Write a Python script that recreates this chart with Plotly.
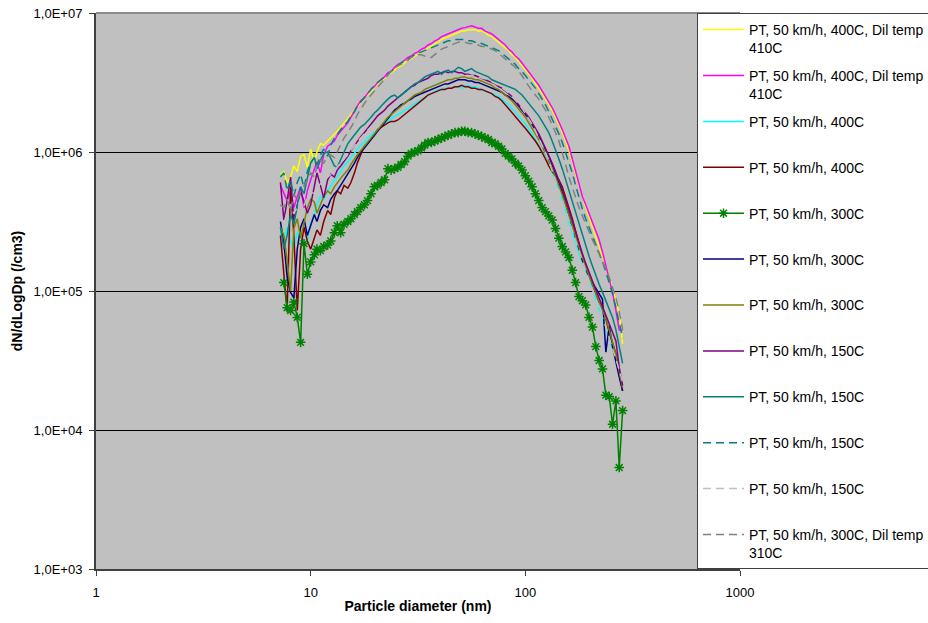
import plotly.graph_objects as go

# Particle diameter bins (nm), 64 channels per decade
diameter_nm = [
    7.23, 7.50, 7.77, 8.06, 8.35, 8.66, 8.98, 9.31, 9.65, 10.0,
    10.4, 10.7, 11.1, 11.5, 12.0, 12.4, 12.9, 13.3, 13.8, 14.3,
    14.9, 15.4, 16.0, 16.5, 17.1, 17.8, 18.4, 19.1, 19.8, 20.5,
    21.3, 22.1, 22.9, 23.7, 24.6, 25.5, 26.4, 27.4, 28.4, 29.4,
    30.5, 31.6, 32.8, 34.0, 35.2, 36.5, 37.9, 39.2, 40.7, 42.2,
    43.7, 45.3, 47.0, 48.7, 50.5, 52.3, 54.2, 56.2, 58.3, 60.4,
    62.6, 64.9, 67.3, 69.8, 72.3, 75.0, 77.7, 80.6, 83.5, 86.6,
    89.8, 93.1, 96.5, 100.0, 103.7, 107.5, 111.4, 115.5, 119.7, 124.1,
    128.6, 133.3, 138.2, 143.3, 148.6, 154.0, 159.6, 165.5, 171.5, 177.8,
    184.4, 191.1, 198.1, 205.4, 212.9, 220.7, 228.8, 237.2, 245.9, 254.8,
    264.2, 273.8, 283.9,
]

# dN/dLogDp (/cm3) for each run
pt400_dil410_a = [
    6.92e5, 7.24e5, 6.03e5, 6.61e5, 7.94e5, 7.24e5, 9.33e5, 9.55e5, 7.76e5, 1.05e6,
    8.51e5, 1.00e6, 1.15e6, 1.12e6, 1.20e6, 1.26e6, 1.35e6, 1.41e6, 1.51e6, 1.62e6,
    1.74e6, 1.86e6, 2.00e6, 2.14e6, 2.29e6, 2.45e6, 2.57e6, 2.75e6, 2.88e6, 3.09e6,
    3.24e6, 3.39e6, 3.55e6, 3.72e6, 3.89e6, 4.07e6, 4.17e6, 4.37e6, 4.57e6, 4.68e6,
    4.90e6, 5.01e6, 5.25e6, 5.37e6, 5.62e6, 5.75e6, 6.03e6, 6.17e6, 6.46e6, 6.61e6,
    6.76e6, 6.92e6, 7.08e6, 7.24e6, 7.41e6, 7.41e6, 7.59e6, 7.59e6, 7.59e6, 7.41e6,
    7.41e6, 7.24e6, 6.92e6, 6.76e6, 6.46e6, 6.17e6, 5.89e6, 5.62e6, 5.37e6, 5.01e6,
    4.79e6, 4.47e6, 4.17e6, 3.89e6, 3.63e6, 3.39e6, 3.09e6, 2.88e6, 2.63e6, 2.40e6,
    2.19e6, 2.00e6, 1.78e6, 1.58e6, 1.38e6, 1.20e6, 1.02e6, 8.51e5, 6.92e5, 5.75e5,
    4.68e5, 3.98e5, 3.39e5, 2.88e5, 2.51e5, 2.14e5, 1.82e5, 1.51e5, 1.26e5, 1.02e5,
    8.32e4, 6.92e4, 4.17e4,
]
pt400_dil410_b = [
    5.75e5, 5.00e5, 4.47e5, 5.25e5, 3.98e5, 4.79e5, 5.62e5, 3.98e5, 5.25e5, 6.31e5,
    7.59e5, 8.51e5, 7.08e5, 9.55e5, 1.10e6, 1.15e6, 1.20e6, 1.32e6, 1.41e6, 1.51e6,
    1.62e6, 1.78e6, 1.95e6, 2.14e6, 2.34e6, 2.45e6, 2.63e6, 2.82e6, 2.95e6, 3.16e6,
    3.31e6, 3.47e6, 3.72e6, 3.80e6, 4.07e6, 4.27e6, 4.37e6, 4.57e6, 4.79e6, 4.90e6,
    5.13e6, 5.25e6, 5.50e6, 5.62e6, 5.89e6, 6.03e6, 6.31e6, 6.46e6, 6.76e6, 6.92e6,
    7.08e6, 7.24e6, 7.41e6, 7.59e6, 7.76e6, 7.85e6, 7.94e6, 8.10e6, 7.94e6, 7.76e6,
    7.76e6, 7.41e6, 7.24e6, 7.08e6, 6.76e6, 6.46e6, 6.17e6, 5.89e6, 5.50e6, 5.25e6,
    4.90e6, 4.68e6, 4.37e6, 4.07e6, 3.80e6, 3.55e6, 3.24e6, 3.02e6, 2.75e6, 2.51e6,
    2.29e6, 2.09e6, 1.86e6, 1.66e6, 1.45e6, 1.26e6, 1.10e6, 8.91e5, 7.24e5, 5.89e5,
    4.79e5, 4.17e5, 3.63e5, 3.09e5, 2.69e5, 2.34e5, 1.91e5, 1.51e5, 1.20e5, 9.77e4,
    7.24e4, 5.25e4, 5.25e4,
]
pt400_a = [
    2.69e5, 2.40e5, 2.88e5, 2.29e5, 2.00e5, 2.63e5, 2.51e5, 2.19e5, 2.34e5, 3.02e5,
    3.55e5, 4.17e5, 4.79e5, 4.57e5, 5.25e5, 5.75e5, 6.31e5, 6.61e5, 7.24e5, 7.94e5,
    8.51e5, 9.12e5, 9.77e5, 1.05e6, 1.12e6, 1.17e6, 1.26e6, 1.32e6, 1.38e6, 1.45e6,
    1.51e6, 1.58e6, 1.66e6, 1.74e6, 1.82e6, 1.86e6, 1.91e6, 2.00e6, 2.04e6, 2.14e6,
    2.24e6, 2.29e6, 2.40e6, 2.45e6, 2.57e6, 2.63e6, 2.75e6, 2.82e6, 2.82e6, 2.88e6,
    2.88e6, 2.88e6, 2.95e6, 2.95e6, 2.88e6, 2.95e6, 3.02e6, 2.95e6, 2.95e6, 2.88e6,
    2.82e6, 2.75e6, 2.69e6, 2.63e6, 2.57e6, 2.51e6, 2.40e6, 2.29e6, 2.19e6, 2.04e6,
    1.95e6, 1.82e6, 1.70e6, 1.58e6, 1.48e6, 1.35e6, 1.23e6, 1.12e6, 1.02e6, 9.12e5,
    8.13e5, 7.24e5, 6.31e5, 5.37e5, 4.57e5, 3.80e5, 3.16e5, 2.63e5, 2.19e5, 1.86e5,
    1.62e5, 1.41e5, 1.23e5, 1.05e5, 8.71e4, 7.41e4, 6.46e4, 5.50e4, 4.57e4, 3.80e4,
    3.16e4, 2.51e4, 2.00e4,
]
pt400_b = [
    2.51e5, 1.26e5, 7.24e4, 5.62e5, 2.51e5, 7.24e4, 2.00e5, 2.88e5, 2.29e5, 2.00e5,
    2.40e5, 2.75e5, 2.51e5, 3.16e5, 3.80e5, 3.55e5, 4.68e5, 5.25e5, 5.01e5, 5.75e5,
    5.50e5, 6.03e5, 7.08e5, 8.32e5, 9.55e5, 1.10e6, 1.15e6, 1.23e6, 1.32e6, 1.45e6,
    1.51e6, 1.58e6, 1.62e6, 1.66e6, 1.66e6, 1.70e6, 1.78e6, 1.86e6, 1.95e6, 2.04e6,
    2.14e6, 2.24e6, 2.34e6, 2.45e6, 2.57e6, 2.63e6, 2.69e6, 2.75e6, 2.82e6, 2.82e6,
    2.88e6, 2.88e6, 2.95e6, 2.95e6, 3.02e6, 2.95e6, 2.95e6, 2.88e6, 2.88e6, 2.82e6,
    2.82e6, 2.75e6, 2.69e6, 2.63e6, 2.51e6, 2.45e6, 2.34e6, 2.19e6, 2.09e6, 1.95e6,
    1.82e6, 1.70e6, 1.58e6, 1.48e6, 1.38e6, 1.29e6, 1.20e6, 1.10e6, 1.00e6, 8.91e5,
    7.94e5, 7.24e5, 6.76e5, 6.31e5, 5.62e5, 4.79e5, 3.98e5, 3.31e5, 2.75e5, 2.19e5,
    1.74e5, 1.48e5, 1.26e5, 1.12e5, 9.55e4, 8.32e4, 7.59e4, 6.31e4, 5.01e4, 4.17e4,
    3.55e4, 2.51e4, 1.91e4,
]
pt300_a = [
    None, 1.15e5, 7.59e4, 7.24e4, 8.32e4, 6.46e4, 4.27e4, 2.19e5, 1.32e5, 1.62e5,
    1.82e5, 2.00e5, 1.95e5, 2.09e5, 2.14e5, 2.29e5, 2.63e5, 2.95e5, 2.63e5, 3.02e5,
    3.16e5, 3.31e5, 3.55e5, 3.72e5, 3.98e5, 4.17e5, 4.47e5, 5.01e5, 5.62e5, 5.75e5,
    6.03e5, 6.31e5, 7.59e5, 7.41e5, 7.59e5, 7.76e5, 8.13e5, 8.51e5, 9.33e5, 9.77e5,
    1.00e6, 1.02e6, 1.07e6, 1.12e6, 1.17e6, 1.17e6, 1.20e6, 1.23e6, 1.26e6, 1.29e6,
    1.32e6, 1.35e6, 1.38e6, 1.38e6, 1.41e6, 1.41e6, 1.38e6, 1.38e6, 1.35e6, 1.32e6,
    1.29e6, 1.26e6, 1.23e6, 1.17e6, 1.15e6, 1.10e6, 1.05e6, 9.77e5, 9.33e5, 8.91e5,
    8.32e5, 7.94e5, 7.41e5, 6.76e5, 6.17e5, 5.62e5, 5.01e5, 4.47e5, 3.98e5, 3.72e5,
    3.47e5, 3.24e5, 2.82e5, 2.40e5, 2.09e5, 1.91e5, 1.74e5, 1.41e5, 1.15e5, 9.12e4,
    8.51e4, 7.94e4, 6.46e4, 5.50e4, 3.98e4, 3.16e4, 2.75e4, 1.78e4, 1.74e4, 1.10e4,
    1.62e4, 5.37e3, 1.38e4,
]
pt300_b = [
    3.16e5, 2.24e5, 1.26e5, 9.77e4, 8.91e4, 2.00e5, 2.88e5, 3.31e5, 2.51e5, 3.02e5,
    3.55e5, 3.16e5, 3.80e5, 4.17e5, 3.98e5, 4.57e5, 5.01e5, 5.25e5, 5.75e5, 6.31e5,
    6.92e5, 7.59e5, 8.32e5, 9.12e5, 1.00e6, 1.07e6, 1.15e6, 1.23e6, 1.32e6, 1.41e6,
    1.51e6, 1.62e6, 1.74e6, 1.86e6, 2.00e6, 2.09e6, 2.19e6, 2.24e6, 2.34e6, 2.40e6,
    2.51e6, 2.57e6, 2.63e6, 2.69e6, 2.75e6, 2.82e6, 2.88e6, 2.95e6, 3.02e6, 3.09e6,
    3.09e6, 3.16e6, 3.24e6, 3.31e6, 3.31e6, 3.31e6, 3.24e6, 3.24e6, 3.16e6, 3.16e6,
    3.09e6, 3.02e6, 2.95e6, 2.88e6, 2.82e6, 2.75e6, 2.69e6, 2.57e6, 2.51e6, 2.40e6,
    2.29e6, 2.14e6, 2.00e6, 1.86e6, 1.74e6, 1.58e6, 1.45e6, 1.32e6, 1.17e6, 1.05e6,
    9.33e5, 8.13e5, 7.08e5, 6.03e5, 5.13e5, 4.27e5, 3.55e5, 2.95e5, 2.40e5, 2.00e5,
    1.66e5, 1.45e5, 1.26e5, 1.15e5, 1.05e5, 9.55e4, 8.71e4, 3.63e4, 5.62e4, 3.98e4,
    3.02e4, 2.40e4, 1.91e4,
]
pt300_c = [
    2.88e5, 2.51e5, 1.66e5, 1.00e5, 2.82e5, 3.31e5, 2.40e5, 3.16e5, 3.98e5, 4.57e5,
    4.37e5, 3.63e5, 4.17e5, 4.79e5, 5.25e5, 5.01e5, 5.62e5, 6.03e5, 6.46e5, 6.92e5,
    7.41e5, 8.13e5, 8.91e5, 9.55e5, 1.02e6, 1.10e6, 1.17e6, 1.26e6, 1.35e6, 1.45e6,
    1.55e6, 1.66e6, 1.78e6, 1.86e6, 1.95e6, 2.04e6, 2.14e6, 2.24e6, 2.34e6, 2.45e6,
    2.57e6, 2.63e6, 2.69e6, 2.82e6, 2.88e6, 2.95e6, 3.02e6, 3.09e6, 3.16e6, 3.24e6,
    3.31e6, 3.31e6, 3.39e6, 3.39e6, 3.47e6, 3.47e6, 3.39e6, 3.39e6, 3.31e6, 3.31e6,
    3.24e6, 3.16e6, 3.09e6, 3.02e6, 2.88e6, 2.82e6, 2.69e6, 2.57e6, 2.45e6, 2.34e6,
    2.19e6, 2.04e6, 1.91e6, 1.78e6, 1.62e6, 1.48e6, 1.35e6, 1.23e6, 1.10e6, 9.77e5,
    8.71e5, 7.59e5, 6.61e5, 5.75e5, 4.90e5, 4.17e5, 3.55e5, 2.95e5, 2.45e5, 2.04e5,
    1.74e5, 1.48e5, 1.29e5, 1.12e5, 9.77e4, 8.51e4, 7.41e4, 6.31e4, 5.25e4, 4.37e4,
    3.47e4, 2.63e4, 2.00e4,
]
pt150_a = [
    6.03e5, 3.24e5, 4.47e5, 6.61e5, 3.24e5, 4.17e5, 5.25e5, 4.37e5, 3.63e5, 4.17e5,
    5.62e5, 7.08e5, 5.75e5, 4.68e5, 6.31e5, 6.92e5, 6.61e5, 7.41e5, 7.94e5, 8.51e5,
    9.33e5, 1.02e6, 1.12e6, 1.20e6, 1.29e6, 1.38e6, 1.48e6, 1.58e6, 1.70e6, 1.82e6,
    1.91e6, 2.00e6, 2.14e6, 2.24e6, 2.34e6, 2.45e6, 2.57e6, 2.69e6, 2.82e6, 2.95e6,
    3.02e6, 3.16e6, 3.24e6, 3.31e6, 3.39e6, 3.55e6, 3.63e6, 3.63e6, 3.72e6, 3.80e6,
    3.72e6, 3.80e6, 3.80e6, 3.72e6, 3.72e6, 3.63e6, 3.63e6, 3.55e6, 3.55e6, 3.47e6,
    3.39e6, 3.31e6, 3.24e6, 3.16e6, 3.09e6, 2.95e6, 2.88e6, 2.75e6, 2.63e6, 2.51e6,
    2.34e6, 2.19e6, 2.04e6, 1.91e6, 1.78e6, 1.62e6, 1.48e6, 1.35e6, 1.20e6, 1.07e6,
    9.55e5, 8.32e5, 7.24e5, 6.31e5, 5.37e5, 4.57e5, 3.80e5, 3.16e5, 2.63e5, 2.19e5,
    1.86e5, 1.58e5, 1.35e5, 1.17e5, 1.02e5, 8.91e4, 7.76e4, 6.76e4, 5.75e4, 5.01e4,
    4.37e4, 2.82e4, 2.09e4,
]
pt150_b = [
    2.88e5, 2.00e5, 2.51e5, 3.55e5, 3.02e5, 4.17e5, 5.62e5, 5.01e5, 6.61e5, 8.32e5,
    9.12e5, 7.59e5, 8.71e5, 9.77e5, 1.00e6, 8.91e5, 7.94e5, 7.76e5, 8.91e5, 1.00e6,
    1.15e6, 1.23e6, 1.32e6, 1.41e6, 1.51e6, 1.58e6, 1.66e6, 1.78e6, 1.91e6, 2.00e6,
    2.14e6, 2.29e6, 2.40e6, 2.51e6, 2.57e6, 2.45e6, 2.57e6, 2.69e6, 2.82e6, 2.95e6,
    3.09e6, 3.16e6, 3.31e6, 3.47e6, 3.55e6, 3.63e6, 3.72e6, 3.80e6, 3.63e6, 3.80e6,
    3.89e6, 3.72e6, 3.89e6, 4.07e6, 3.98e6, 3.80e6, 3.89e6, 3.98e6, 3.80e6, 3.72e6,
    3.63e6, 3.55e6, 3.47e6, 3.31e6, 3.24e6, 3.16e6, 3.09e6, 3.02e6, 2.95e6, 2.88e6,
    2.82e6, 2.69e6, 2.57e6, 2.40e6, 2.24e6, 2.09e6, 1.95e6, 1.82e6, 1.66e6, 1.51e6,
    1.38e6, 1.20e6, 1.05e6, 8.91e5, 7.59e5, 6.31e5, 5.25e5, 4.37e5, 3.63e5, 3.02e5,
    2.51e5, 2.09e5, 1.78e5, 1.51e5, 1.29e5, 1.12e5, 9.77e4, 8.51e4, 7.41e4, 6.46e4,
    5.25e4, 3.98e4, 3.02e4,
]
pt150_c = [
    6.61e5, 7.08e5, 5.25e5, 6.31e5, 4.79e5, 6.03e5, 6.92e5, 5.50e5, 7.24e5, 8.32e5,
    9.12e5, 7.94e5, 9.55e5, 1.05e6, 9.33e5, 1.12e6, 1.26e6, 1.35e6, 1.45e6, 1.55e6,
    1.66e6, 1.82e6, 1.95e6, 2.14e6, 2.29e6, 2.45e6, 2.63e6, 2.82e6, 3.02e6, 3.16e6,
    3.31e6, 3.47e6, 3.63e6, 3.80e6, 3.98e6, 4.17e6, 4.37e6, 4.57e6, 4.68e6, 4.79e6,
    5.01e6, 5.13e6, 5.25e6, 5.37e6, 5.50e6, 5.62e6, 5.75e6, 5.89e6, 6.03e6, 6.17e6,
    6.31e6, 6.31e6, 6.46e6, 6.46e6, 6.46e6, 6.46e6, 6.31e6, 6.31e6, 6.17e6, 6.17e6,
    6.03e6, 5.89e6, 5.75e6, 5.62e6, 5.50e6, 5.37e6, 5.13e6, 4.90e6, 4.68e6, 4.47e6,
    4.27e6, 3.98e6, 3.80e6, 3.55e6, 3.31e6, 3.09e6, 2.88e6, 2.63e6, 2.40e6, 2.19e6,
    1.95e6, 1.74e6, 1.55e6, 1.35e6, 1.17e6, 1.00e6, 8.51e5, 7.08e5, 5.75e5, 4.68e5,
    3.89e5, 3.31e5, 2.88e5, 2.51e5, 2.19e5, 1.91e5, 1.62e5, 1.38e5, 1.15e5, 9.55e4,
    7.59e4, 5.89e4, 4.57e4,
]
pt150_d = [
    3.5e5, 3.0e5, 3.8e5, 4.2e5, 3.6e5, 4.0e5, 4.6e5, 4.1e5, 4.8e5, 5.2e5,
    5.0e5, 5.5e5, 5.9e5, 6.2e5, 6.6e5, 6.9e5, 7.3e5, 7.8e5, 8.3e5, 8.9e5,
    9.6e5, 1.03e6, 1.10e6, 1.18e6, 1.26e6, 1.34e6, 1.43e6, 1.52e6, 1.62e6, 1.72e6,
    1.82e6, 1.93e6, 2.04e6, 2.15e6, 2.26e6, 2.37e6, 2.48e6, 2.58e6, 2.68e6, 2.78e6,
    2.87e6, 2.96e6, 3.04e6, 3.12e6, 3.19e6, 3.26e6, 3.32e6, 3.38e6, 3.43e6, 3.47e6,
    3.51e6, 3.54e6, 3.56e6, 3.58e6, 3.58e6, 3.58e6, 3.56e6, 3.54e6, 3.51e6, 3.47e6,
    3.42e6, 3.36e6, 3.29e6, 3.21e6, 3.12e6, 3.02e6, 2.91e6, 2.79e6, 2.66e6, 2.52e6,
    2.37e6, 2.22e6, 2.06e6, 1.90e6, 1.74e6, 1.58e6, 1.42e6, 1.27e6, 1.12e6, 9.9e5,
    8.6e5, 7.4e5, 6.3e5, 5.3e5, 4.5e5, 3.8e5, 3.2e5, 2.7e5, 2.3e5, 1.95e5,
    1.65e5, 1.40e5, 1.20e5, 1.03e5, 8.9e4, 7.6e4, 6.5e4, 5.5e4, 4.6e4, 3.9e4,
    3.3e4, 2.7e4, 2.2e4,
]
pt300_dil310 = [
    4.17e5, 3.98e5, 4.57e5, 3.80e5, 5.01e5, 4.47e5, 5.25e5, 5.62e5, 6.31e5, 7.08e5,
    6.61e5, 7.94e5, 8.71e5, 8.32e5, 9.33e5, 9.55e5, 9.12e5, 1.00e6, 1.12e6, 1.26e6,
    1.38e6, 1.51e6, 1.66e6, 1.86e6, 2.04e6, 2.24e6, 2.40e6, 2.57e6, 2.75e6, 2.95e6,
    3.16e6, 3.39e6, 3.63e6, 3.80e6, 3.98e6, 4.17e6, 4.27e6, 4.47e6, 4.57e6, 4.79e6,
    4.90e6, 5.01e6, 5.01e6, 4.90e6, 4.79e6, 4.79e6, 5.01e6, 5.25e6, 5.50e6, 5.62e6,
    5.75e6, 5.89e6, 6.03e6, 6.17e6, 6.17e6, 6.17e6, 6.03e6, 6.03e6, 5.89e6, 5.89e6,
    5.75e6, 5.75e6, 5.62e6, 5.50e6, 5.37e6, 5.13e6, 4.90e6, 4.68e6, 4.47e6, 4.27e6,
    4.07e6, 3.80e6, 3.55e6, 3.24e6, 2.95e6, 2.75e6, 2.57e6, 2.40e6, 2.19e6, 2.00e6,
    1.78e6, 1.58e6, 1.38e6, 1.20e6, 1.00e6, 8.13e5, 6.61e5, 5.50e5, 4.68e5, 3.98e5,
    3.47e5, 3.02e5, 2.63e5, 2.34e5, 2.09e5, 1.86e5, 1.66e5, 1.45e5, 1.26e5, 1.07e5,
    8.91e4, 7.08e4, 5.25e4,
]

W1 = "PT, 50 km/h, 400C, Dil temp<br>410C"
series = [
    (W1, pt400_dil410_a, "#FFFF00", "solid"),
    (W1, pt400_dil410_b, "#FF00FF", "solid"),
    ("PT, 50 km/h, 400C", pt400_a, "#00FFFF", "solid"),
    ("PT, 50 km/h, 400C", pt400_b, "#800000", "solid"),
    ("PT, 50 km/h, 300C", pt300_a, "#008000", "solid"),
    ("PT, 50 km/h, 300C", pt300_b, "#000080", "solid"),
    ("PT, 50 km/h, 300C", pt300_c, "#808000", "solid"),
    ("PT, 50 km/h, 150C", pt150_a, "#800080", "solid"),
    ("PT, 50 km/h, 150C", pt150_b, "#008080", "solid"),
    ("PT, 50 km/h, 150C", pt150_c, "#008080", "8px,5px"),
    ("PT, 50 km/h, 150C", pt150_d, "#C0C0C0", "8px,5px"),
    ("PT, 50 km/h, 300C, Dil temp<br>310C", pt300_dil310, "#808080", "8px,5px"),
]

fig = go.Figure()
for k, (name, vals, color, dash) in enumerate(series):
    # every legend entry occupies two text lines so the rows are evenly spaced
    label = name if "<br>" in name else name + "<br>\u00a0"
    if color == "#008000":
        fig.add_trace(go.Scatter(
            x=diameter_nm, y=vals, name=label, mode="lines+markers",
            line=dict(color=color, width=1.5),
            marker=dict(symbol="asterisk-open", size=8,
                        line=dict(color=color, width=1.5)),
            legendgroup=f"g{k}", connectgaps=False,
        ))
    else:
        fig.add_trace(go.Scatter(
            x=diameter_nm, y=vals, name=label, mode="lines",
            line=dict(color=color, width=1.5, dash=dash),
            legendgroup=f"g{k}",
        ))

font_family = "Arial, Liberation Sans, sans-serif"

fig.update_layout(
    width=928, height=623,
    margin=dict(l=96, r=188, t=13, b=54, autoexpand=False),
    paper_bgcolor="white",
    plot_bgcolor="#C0C0C0",
    font=dict(family=font_family, size=13, color="black"),
    showlegend=True,
    legend=dict(
        x=(697 - 96) / 644, y=1.0, xanchor="left", yanchor="top",
        bgcolor="white", bordercolor="#404040", borderwidth=1,
        font=dict(family=font_family, size=14, color="black"),
        tracegroupgap=6.5, valign="top", itemwidth=41,
    ),
    xaxis=dict(
        type="log", range=[0, 3],
        tickvals=[1, 10, 100, 1000], ticktext=["1", "10", "100", "1000"],
        ticks="outside", ticklen=5, tickcolor="#404040",
        showline=True, linecolor="#404040", linewidth=2,
        showgrid=False, zeroline=False,
        title=dict(text="<b>Particle diameter (nm)</b>",
                   font=dict(size=14), standoff=3),
        automargin=False,
        ticklabelstandoff=5,
    ),
    yaxis=dict(
        type="log", range=[3, 7],
        tickvals=[1e3, 1e4, 1e5, 1e6, 1e7],
        ticktext=["1,0E+03", "1,0E+04", "1,0E+05", "1,0E+06", "1,0E+07"],
        ticks="outside", ticklen=5, tickcolor="#404040",
        showline=True, linecolor="#404040", linewidth=2,
        showgrid=True, gridcolor="black", gridwidth=1,
        zeroline=False,
        title=dict(text="<b>dN/dLogDp (/cm3)</b>",
                   font=dict(size=14), standoff=8),
        automargin=False,
        ticklabelstandoff=4,
    ),
    shapes=[
        # light plot-area frame along the top edge
        dict(type="line", xref="paper", yref="paper", x0=0, x1=1, y0=1, y1=1,
             line=dict(color="#8C8C8C", width=2), layer="above"),
    ],
)

fig.write_html("out.html")
